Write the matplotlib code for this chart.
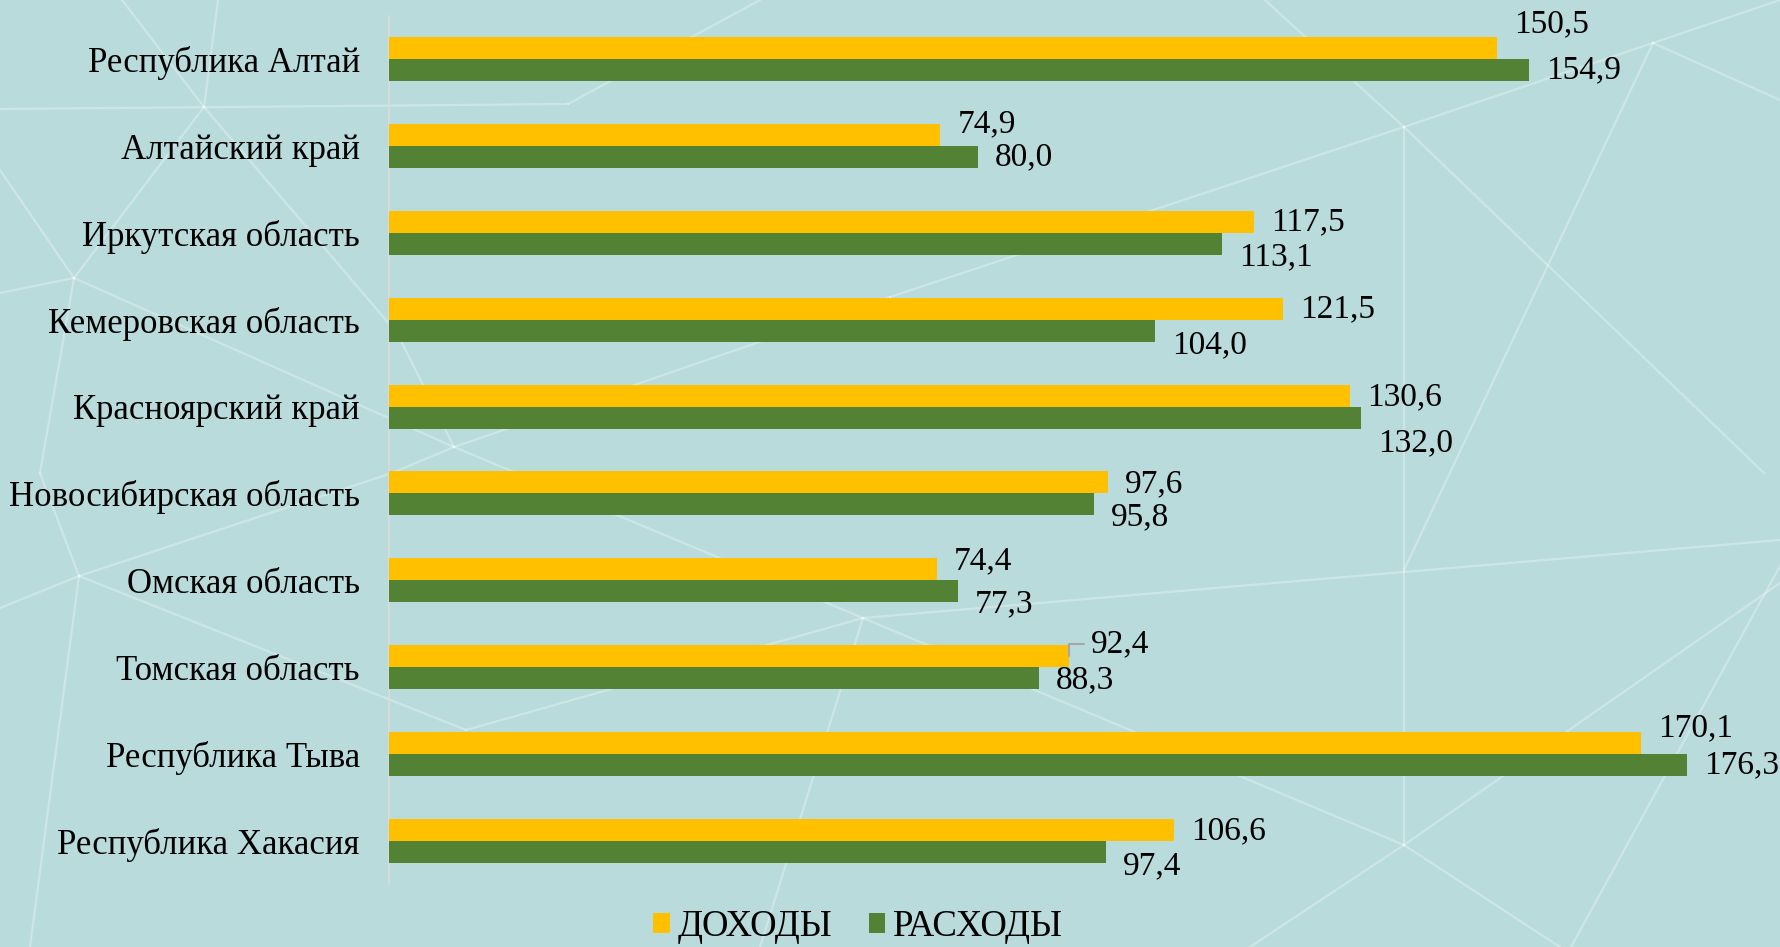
import matplotlib
matplotlib.use("Agg")
import matplotlib.pyplot as plt
from matplotlib.lines import Line2D
import numpy as np

# Data
regions = [
    "Республика Алтай",
    "Алтайский край",
    "Иркутская область",
    "Кемеровская область",
    "Красноярский край",
    "Новосибирская область",
    "Омская область",
    "Томская область",
    "Республика Тыва",
    "Республика Хакасия",
]
income = [150.5, 74.9, 117.5, 121.5, 130.6, 97.6, 74.4, 92.4, 170.1, 106.6]
expense = [154.9, 80.0, 113.1, 104.0, 132.0, 95.8, 77.3, 88.3, 176.3, 97.4]
series_names = ["ДОХОДЫ", "РАСХОДЫ"]

# label nudges (pixels, + is down), as placed in the original
income_dy = [-24, -11, 0, 0, 1, 2, -8, -12, -15, 1]
expense_dy = [0, 0, 13, 14, 25, 13, 13, 2, 0, 14]

YELLOW = "#FFC000"
GREEN = "#548235"
BG = "#B9DBDC"
FONT = ["Liberation Serif", "DejaVu Serif"]

plt.rcParams["font.family"] = FONT

W, H = 1780, 947
fig = plt.figure(figsize=(W / 100, H / 100), dpi=100, facecolor=BG)

# decorative background network
bg_lines = [
    ((0, 109), (568, 104)), ((568, 104), (760, 0)),
    ((122, 0), (204, 107)), ((218, 0), (204, 107)),
    ((204, 107), (397, 333)), ((397, 333), (454, 447)),
    ((0, 170), (74, 278)), ((0, 293), (74, 278)),
    ((74, 278), (204, 107)), ((74, 278), (40, 473)),
    ((74, 278), (454, 447)), ((40, 473), (79, 576)),
    ((0, 608), (79, 576)), ((79, 576), (392, 473)),
    ((392, 473), (454, 447)), ((79, 576), (466, 730)),
    ((466, 730), (863, 618)), ((79, 576), (30, 947)),
    ((454, 447), (863, 618)), ((863, 618), (1780, 540)),
    ((863, 618), (1404, 845)), ((863, 618), (760, 947)),
    ((1404, 127), (1404, 845)), ((1265, 0), (1404, 127)),
    ((1404, 127), (1653, 43)), ((1404, 127), (890, 297)),
    ((890, 297), (454, 447)), ((1404, 127), (1764, 473)),
    ((1653, 43), (1780, 0)), ((1653, 43), (1780, 100)),
    ((1653, 43), (1404, 570)), ((1404, 845), (1780, 583)),
    ((1404, 845), (1560, 947)), ((1404, 845), (1250, 947)),
    ((1780, 566), (1571, 947)),
]
for (x0, y0), (x1, y1) in bg_lines:
    fig.add_artist(Line2D([x0 / W, x1 / W], [1 - y0 / H, 1 - y1 / H],
                          transform=fig.transFigure, color="white",
                          alpha=0.3, lw=1.6, zorder=0))

ax_left = 389 / W
ax_bottom = 1 - 884 / H
ax_top = 1 - 16 / H
ax = fig.add_axes([ax_left, ax_bottom, 1 - ax_left, ax_top - ax_bottom])
ax.set_facecolor("none")

y = np.arange(len(regions))
h = 0.253
ax.barh(y - h / 2, income, height=h, color=YELLOW, label=series_names[0], zorder=3)
ax.barh(y + h / 2, expense, height=h, color=GREEN, label=series_names[1], zorder=3)

ax.set_xlim(0, (W - 389) / 7.362)
ax.set_ylim(len(regions) - 0.5, -0.5)

for s in ["top", "right", "bottom"]:
    ax.spines[s].set_visible(False)
ax.spines["left"].set_color("#D9D9D9")
ax.spines["left"].set_linewidth(1.5)
ax.set_xticks([])
ax.set_yticks(y)
ax.set_yticklabels(regions, fontsize=25, color="black")
ax.tick_params(axis="y", length=0, pad=21)

px = 0.72  # points per pixel at 100 dpi
for i in range(len(regions)):
    if i == 7:
        ax.annotate(f"{income[i]:.1f}".replace(".", ","),
                    xy=(income[i], y[i] - h / 2), xytext=(22 * px, -income_dy[i] * px),
                    textcoords="offset points", ha="left", va="center", fontsize=24,
                    arrowprops=dict(arrowstyle="-", color="#A6A6A6", lw=1.5,
                                    connectionstyle="angle,angleA=0,angleB=90,rad=0",
                                    relpos=(0, 0.5), shrinkA=3, shrinkB=0),
                    zorder=4)
    else:
        ax.annotate(f"{income[i]:.1f}".replace(".", ","),
                    xy=(income[i], y[i] - h / 2), xytext=(17 * px, -income_dy[i] * px),
                    textcoords="offset points", ha="left", va="center", fontsize=24,
                    zorder=4)
    ax.annotate(f"{expense[i]:.1f}".replace(".", ","),
                xy=(expense[i], y[i] + h / 2), xytext=(17 * px, -expense_dy[i] * px),
                textcoords="offset points", ha="left", va="center", fontsize=24,
                zorder=4)

fig.legend(loc="center", bbox_to_anchor=(0.482, 1 - 927 / H), ncol=2,
           frameon=False, fontsize=26.5, handlelength=0.45, handleheight=0.45,
           handletextpad=0.2, columnspacing=1.0, borderaxespad=0)

fig.savefig("out.png", dpi=100, facecolor=BG)
